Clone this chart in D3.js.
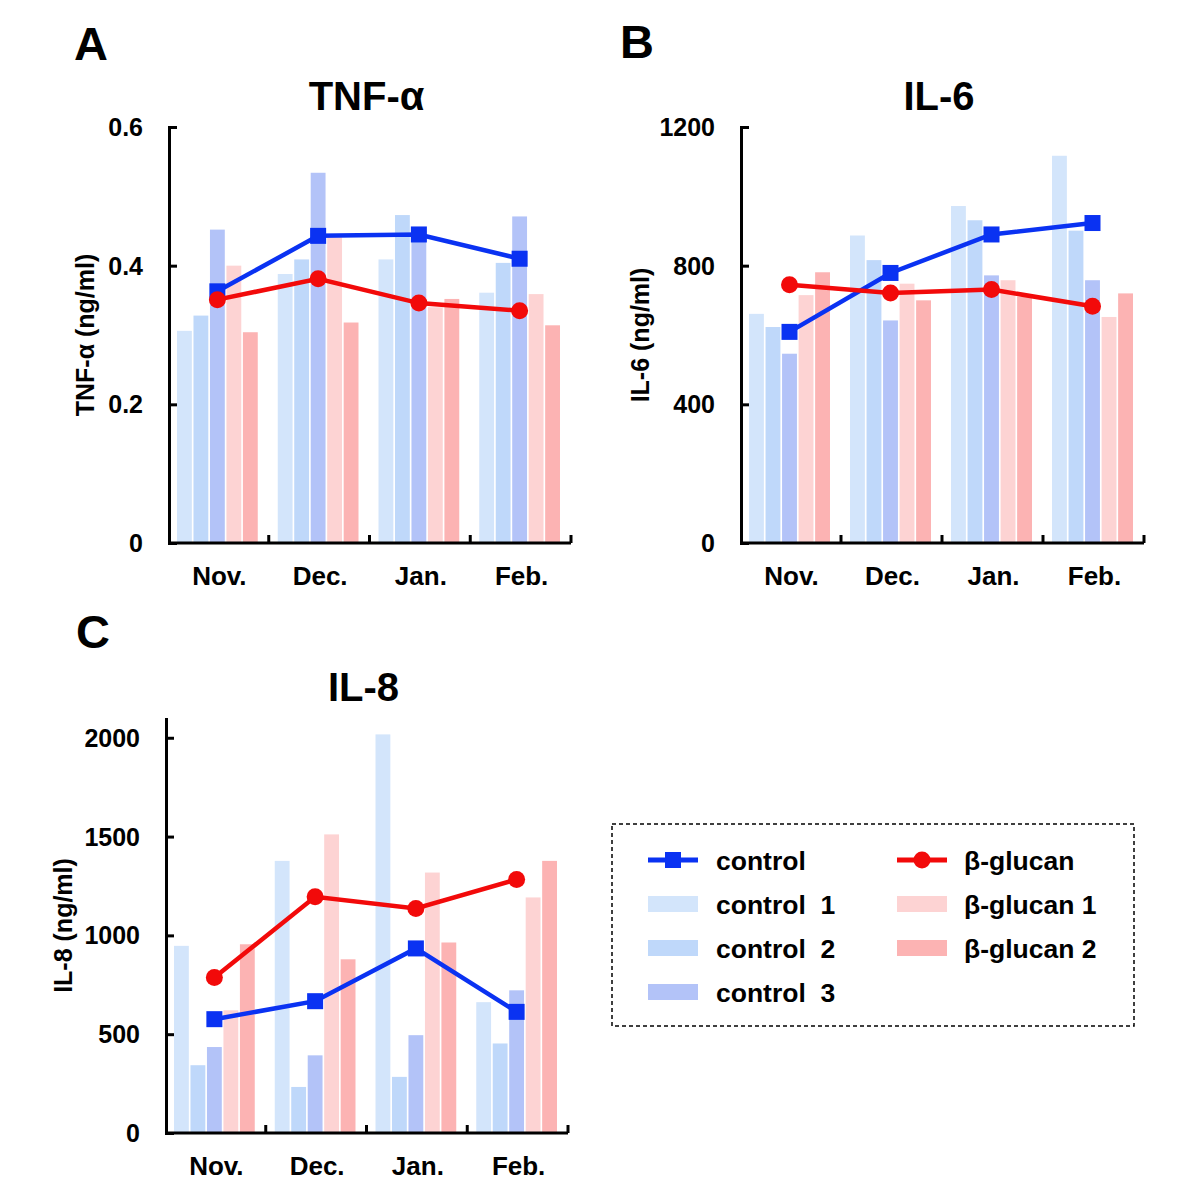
<!DOCTYPE html>
<html>
<head>
<meta charset="utf-8">
<script src="https://cdn.jsdelivr.net/npm/d3@7"></script>
<style>
  body { margin: 0; background: #fff; }
  svg text { font-family: Arial, "Liberation Sans", sans-serif; font-weight: bold; fill: #000; }
</style>
</head>
<body>
<div id="chart"></div>
<script>
const months = ["Nov.", "Dec.", "Jan.", "Feb."];
const barSeries = ["control  1", "control  2", "control  3", "β-glucan 1", "β-glucan 2"];
const barColors = ["#d3e5fb", "#bfd8fa", "#b3c3f8", "#fdd3d3", "#fcb3b3"];
const lineColors = { control: "#0a32f2", glucan: "#f20a0a" };

// TNF-alpha (ng/ml)
const tnfControl1 = [0.306, 0.388, 0.409, 0.361];
const tnfControl2 = [0.328, 0.409, 0.473, 0.404];
const tnfControl3 = [0.452, 0.534, 0.450, 0.471];
const tnfGlucan1 = [0.400, 0.441, 0.340, 0.359];
const tnfGlucan2 = [0.304, 0.318, 0.352, 0.314];
const tnfControl = [0.363, 0.443, 0.445, 0.410];
const tnfGlucan = [0.351, 0.381, 0.346, 0.335];
const tnfTicks = [0, 0.2, 0.4, 0.6];

// IL-6 (ng/ml)
const il6Control1 = [661, 887, 972, 1117];
const il6Control2 = [623, 816, 931, 901];
const il6Control3 = [546, 642, 772, 758];
const il6Glucan1 = [715, 748, 758, 652];
const il6Glucan2 = [781, 700, 710, 720];
const il6Control = [609, 779, 890, 923];
const il6Glucan = [745, 721, 731, 683];
const il6Ticks = [0, 400, 800, 1200];

// IL-8 (ng/ml)
const il8Control1 = [947, 1377, 2017, 662];
const il8Control2 = [343, 233, 284, 453];
const il8Control3 = [435, 393, 495, 722];
const il8Glucan1 = [621, 1511, 1318, 1192];
const il8Glucan2 = [955, 879, 964, 1377];
const il8Control = [576, 667, 934, 613];
const il8Glucan = [787, 1195, 1136, 1283];
const il8Ticks = [0, 500, 1000, 1500, 2000];

const svg = d3.select("#chart").append("svg")
    .attr("width", 1200)
    .attr("height", 1191);

function drawPanel(p) {
    const x = d3.scaleBand().domain(months).range([p.left, p.right]);
    const inner = d3.scaleBand().domain(barSeries)
        .range([9, x.bandwidth() - 11]).paddingInner(0.1);
    const y = d3.scaleLinear().domain([0, p.max]).range([p.bottom, p.top]);

    const g = svg.append("g");

    // bars
    const bars = [p.c1, p.c2, p.c3, p.g1, p.g2];
    bars.forEach((vals, si) => {
        g.selectAll(null)
            .data(vals)
            .enter().append("rect")
            .attr("x", (d, i) => x(months[i]) + inner(barSeries[si]))
            .attr("width", inner.bandwidth())
            .attr("y", d => y(d))
            .attr("height", d => y(0) - y(d))
            .attr("fill", barColors[si]);
    });

    // marker x at centre of the 3rd bar
    const mx = i => x(months[i]) + inner(barSeries[2]) + inner.bandwidth() / 2;
    const line = d3.line().x((d, i) => mx(i)).y(d => y(d));

    g.append("path").datum(p.control)
        .attr("fill", "none").attr("stroke", lineColors.control)
        .attr("stroke-width", 4.5).attr("d", line);
    g.selectAll(null).data(p.control).enter().append("rect")
        .attr("x", (d, i) => mx(i) - 8).attr("y", d => y(d) - 8)
        .attr("width", 16).attr("height", 16)
        .attr("fill", lineColors.control);

    g.append("path").datum(p.glucan)
        .attr("fill", "none").attr("stroke", lineColors.glucan)
        .attr("stroke-width", 4.5).attr("d", line);
    g.selectAll(null).data(p.glucan).enter().append("circle")
        .attr("cx", (d, i) => mx(i)).attr("cy", d => y(d))
        .attr("r", 8.5)
        .attr("fill", lineColors.glucan);

    // axes
    const yAxis = d3.axisRight(y).tickValues(p.ticks).tickSize(9).tickFormat("");
    const ya = g.append("g").attr("transform", `translate(${p.left},0)`).call(yAxis);
    const xAxis = d3.axisTop(x).tickValues([]).tickSize(0);
    const xa = g.append("g").attr("transform", `translate(0,${p.bottom})`).call(xAxis);
    [ya, xa].forEach(a => {
        a.select(".domain").attr("stroke", "#000").attr("stroke-width", 3)
            .attr("d", a === ya
                ? `M1.5,${p.top}V${p.bottom}`
                : `M${p.left},0H${p.right}`);
        a.selectAll(".tick line").attr("stroke", "#000").attr("stroke-width", 3);
    });
    // x ticks at band boundaries, pointing up
    g.selectAll(null).data(months).enter().append("line")
        .attr("x1", d => x(d) + x.bandwidth()).attr("x2", d => x(d) + x.bandwidth())
        .attr("y1", p.bottom).attr("y2", p.bottom - 8)
        .attr("stroke", "#000").attr("stroke-width", 3);

    // tick labels
    g.selectAll(null).data(p.ticks).enter().append("text")
        .attr("x", p.left - 25).attr("y", d => y(d))
        .attr("dy", "0.36em").attr("text-anchor", "end")
        .style("font-size", "25px")
        .text(d => p.fmt(d));
    g.selectAll(null).data(months).enter().append("text")
        .attr("x", d => x(d) + x.bandwidth() / 2 + 1)
        .attr("y", p.bottom + 42)
        .attr("text-anchor", "middle")
        .style("font-size", "26px")
        .text(d => d);

    // y label
    g.append("text")
        .attr("transform", `translate(${p.left - p.labelOff},${(p.top + p.bottom) / 2}) rotate(-90)`)
        .attr("text-anchor", "middle")
        .style("font-size", "25px")
        .text(p.ylabel);

    // title and panel letter
    g.append("text")
        .attr("x", (p.left + p.right) / 2 - 3).attr("y", p.top - 17)
        .attr("text-anchor", "middle")
        .style("font-size", "40px")
        .text(p.title);
    g.append("text")
        .attr("x", p.letterX).attr("y", p.letterY)
        .style("font-size", "47px")
        .text(p.letter);
}

drawPanel({
    left: 168, right: 571, top: 127, bottom: 543, max: 0.6,
    ticks: tnfTicks, fmt: d => d === 0 ? "0" : d3.format(".1f")(d),
    c1: tnfControl1, c2: tnfControl2, c3: tnfControl3, g1: tnfGlucan1, g2: tnfGlucan2,
    control: tnfControl, glucan: tnfGlucan, labelOff: 74,
    title: "TNF-α", ylabel: "TNF-α (ng/ml)", letter: "A", letterX: 74, letterY: 60
});

drawPanel({
    left: 740, right: 1144, top: 127, bottom: 543, max: 1200,
    ticks: il6Ticks, fmt: d => d, labelOff: 91,
    c1: il6Control1, c2: il6Control2, c3: il6Control3, g1: il6Glucan1, g2: il6Glucan2,
    control: il6Control, glucan: il6Glucan,
    title: "IL-6", ylabel: "IL-6 (ng/ml)", letter: "B", letterX: 620, letterY: 58
});

drawPanel({
    left: 165, right: 568, top: 718, bottom: 1133, max: 2100,
    ticks: il8Ticks, fmt: d => d, labelOff: 93,
    c1: il8Control1, c2: il8Control2, c3: il8Control3, g1: il8Glucan1, g2: il8Glucan2,
    control: il8Control, glucan: il8Glucan,
    title: "IL-8", ylabel: "IL-8 (ng/ml)", letter: "C", letterX: 76, letterY: 648
});

// legend
const legend = svg.append("g");
legend.append("rect")
    .attr("x", 612).attr("y", 824).attr("width", 522).attr("height", 202)
    .attr("fill", "none").attr("stroke", "#000")
    .attr("stroke-width", 1.5).attr("stroke-dasharray", "4,3");

const legendLeft = [
    { label: "control", type: "line", color: lineColors.control, shape: "square" },
    { label: barSeries[0], type: "bar", color: barColors[0] },
    { label: barSeries[1], type: "bar", color: barColors[1] },
    { label: barSeries[2], type: "bar", color: barColors[2] }
];
const legendRight = [
    { label: "β-glucan", type: "line", color: lineColors.glucan, shape: "circle" },
    { label: barSeries[3], type: "bar", color: barColors[3] },
    { label: barSeries[4], type: "bar", color: barColors[4] }
];
const rowY = d3.scalePoint().domain([0, 1, 2, 3]).range([860, 992]);

function legendColumn(items, sx, tx) {
    items.forEach((it, i) => {
        const cy = rowY(i);
        if (it.type === "line") {
            legend.append("line").attr("x1", sx).attr("x2", sx + 50)
                .attr("y1", cy).attr("y2", cy)
                .attr("stroke", it.color).attr("stroke-width", 5);
            if (it.shape === "square") {
                legend.append("rect").attr("x", sx + 17).attr("y", cy - 8)
                    .attr("width", 16).attr("height", 16).attr("fill", it.color);
            } else {
                legend.append("circle").attr("cx", sx + 25).attr("cy", cy)
                    .attr("r", 8.5).attr("fill", it.color);
            }
        } else {
            legend.append("rect").attr("x", sx).attr("y", cy - 8)
                .attr("width", 50).attr("height", 16).attr("fill", it.color);
        }
        legend.append("text").attr("x", tx).attr("y", cy)
            .attr("dy", "0.36em")
            .style("font-size", "26.5px").style("white-space", "pre")
            .text(it.label);
    });
}
legendColumn(legendLeft, 648, 716);
legendColumn(legendRight, 897, 964);
</script>
</body>
</html>
